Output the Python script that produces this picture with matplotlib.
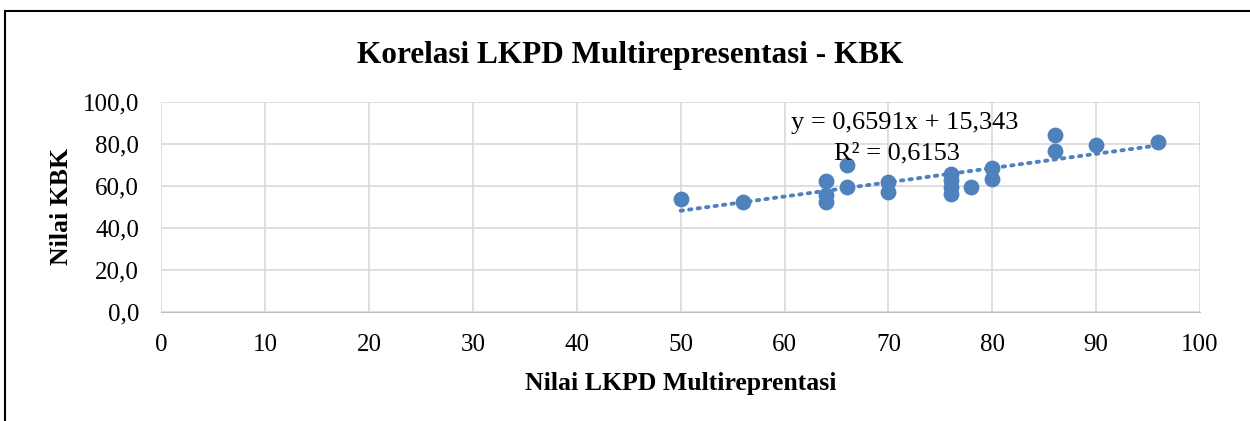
import numpy as np
import matplotlib.pyplot as plt
from matplotlib.ticker import FuncFormatter, MultipleLocator
from matplotlib.patches import Rectangle

# data
lkpd = [50, 56, 64, 64, 64, 66, 66, 70, 70, 76, 76, 76, 76, 78, 80, 80, 86, 86, 90, 96]
kbk = [54.0, 52.5, 62.4, 55.6, 52.5, 69.9, 59.3, 62.0, 57.2, 65.9, 63.0, 59.3, 56.0, 59.3, 68.6, 63.2, 84.2, 76.7, 79.4, 81.0]
eq_text = 'y = 0,6591x + 15,343'
r2_text = 'R² = 0,6153'

plt.rcParams['font.family'] = ['Liberation Serif', 'DejaVu Serif']
blue = '#4F81BD'

fig = plt.figure(figsize=(12.5, 4.21), dpi=100)
ax = fig.add_axes([0.129, 0.259, 0.831, 0.499])

# outer chart border
fig.patches.append(Rectangle((0.004, -0.05), 1.1, 1 - 0.026 + 0.05, transform=fig.transFigure,
                             fill=False, edgecolor='black', linewidth=1.5))

ax.scatter(lkpd, kbk, s=130, color=blue, zorder=3, linewidths=0)

# linear trendline
m, b = np.polyfit(lkpd, kbk, 1)
xs = np.array([min(lkpd), max(lkpd)])
ax.plot(xs, m * xs + b, color=blue, linestyle=(0, (0.6, 1.6)), linewidth=2.8,
        dash_capstyle='round', zorder=2)

ax.text(71.6, 89.8, eq_text, ha='center', va='center', fontsize=19)
ax.text(70.8, 75.5, r2_text, ha='center', va='center', fontsize=19)

ax.set_xlim(0, 100)
ax.set_ylim(0, 100)
ax.xaxis.set_major_locator(MultipleLocator(10))
ax.yaxis.set_major_locator(MultipleLocator(20))
ax.yaxis.set_major_formatter(FuncFormatter(lambda v, p: f'{v:.1f}'.replace('.', ',')))
ax.grid(True, color='#d9d9d9', linewidth=1.2)
ax.set_axisbelow(True)
for s in ax.spines.values():
    s.set_visible(False)
ax.spines['bottom'].set_visible(True)
ax.spines['bottom'].set_color('#bfbfbf')
ax.tick_params(length=0, labelsize=18)
ax.tick_params(axis='x', pad=16)
ax.tick_params(axis='y', pad=16)

ax.set_xlabel('Nilai LKPD Multireprentasi', fontsize=18.5, fontweight='bold')
ax.set_ylabel('Nilai KBK', fontsize=18.5, fontweight='bold')
ax.xaxis.set_label_coords(0.5, -0.285)
ax.yaxis.set_label_coords(-0.0845, 0.5)
fig.text(0.504, 0.868, 'Korelasi LKPD Multirepresentasi - KBK', ha='center', va='center',
         fontsize=22.5, fontweight='bold')

fig.savefig('out.png', dpi=100)
